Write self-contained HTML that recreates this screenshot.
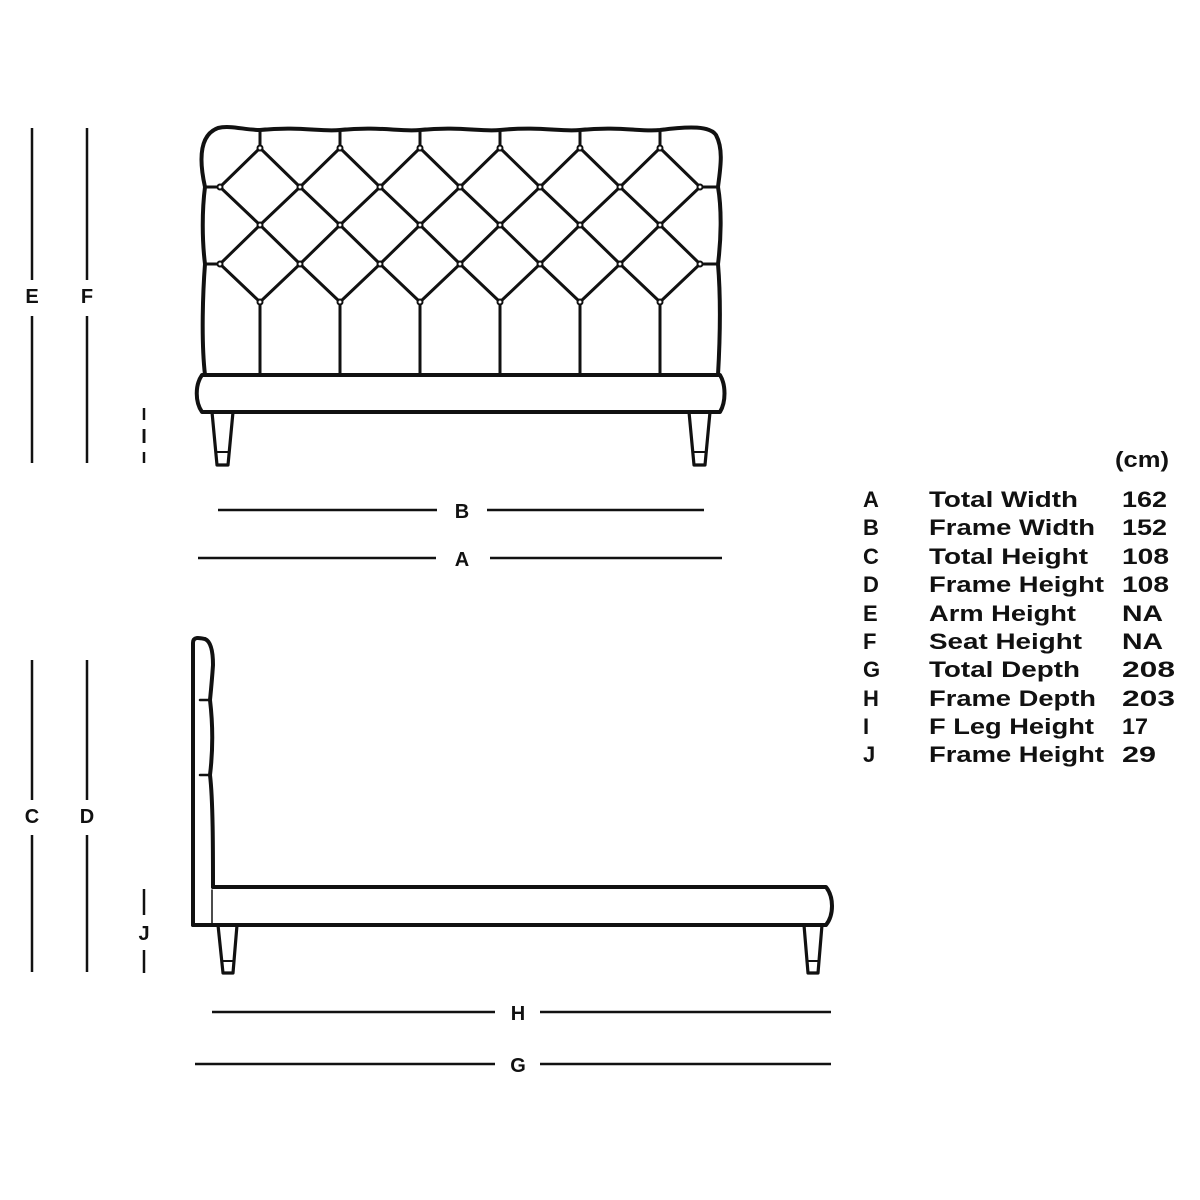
<!DOCTYPE html>
<html><head><meta charset="utf-8"><style>
html,body{margin:0;padding:0;background:#fff;}
svg{display:block;}
text{font-family:"Liberation Sans",sans-serif;font-weight:bold;fill:#111;}
</style></head><body>
<svg width="1200" height="1200" viewBox="0 0 1200 1200" xmlns="http://www.w3.org/2000/svg">
<g fill="none" stroke="#111" stroke-linecap="round" stroke-linejoin="round">
<path d="M212,375 L205,375 C201,340 203,290 205,264 C202,240 202,210 205,187 C199,160 199,135 218,128 C230,125 245,130 260,130 C300,126 320,132 340,130 C380,126 400,132 420,130 C460,126 480,132 500,130 C540,126 560,132 580,130 C620,126 640,132 660,130 C690,126 710,126 716,135 C724,150 720,170 718,187 C722,210 721,240 718,264 C721,300 720,340 718,375" stroke-width="4"/>
<path d="M202,375 L720,375 C726,385 726,402 720,412 L202,412 C195,402 195,385 202,375 Z" stroke-width="4"/>
<path d="M212,412 L217,465 L228,465 L233,412" stroke-width="3.2"/>
<line x1="216" y1="452" x2="229" y2="452" stroke-width="2"/>
<path d="M689,412 L694,465 L705,465 L710,412" stroke-width="3.2"/>
<line x1="693" y1="452" x2="706" y2="452" stroke-width="2"/>
<g stroke-width="3">
<polyline points="220,187 260,148 300,187 340,148 380,187 420,148 460,187 500,148 540,187 580,148 620,187 660,148 700,187"/>
<polyline points="220,187 260,225 300,187 340,225 380,187 420,225 460,187 500,225 540,187 580,225 620,187 660,225 700,187"/>
<polyline points="220,264 260,225 300,264 340,225 380,264 420,225 460,264 500,225 540,264 580,225 620,264 660,225 700,264"/>
<polyline points="220,264 260,302 300,264 340,302 380,264 420,302 460,264 500,302 540,264 580,302 620,264 660,302 700,264"/>
<line x1="205" y1="187" x2="220" y2="187"/><line x1="205" y1="264" x2="220" y2="264"/>
<line x1="700" y1="187" x2="718" y2="187"/><line x1="700" y1="264" x2="718" y2="264"/>
<line x1="260" y1="130" x2="260" y2="148"/><line x1="340" y1="130" x2="340" y2="148"/><line x1="420" y1="130" x2="420" y2="148"/><line x1="500" y1="130" x2="500" y2="148"/><line x1="580" y1="130" x2="580" y2="148"/><line x1="660" y1="130" x2="660" y2="148"/>
<line x1="260" y1="302" x2="260" y2="375"/><line x1="340" y1="302" x2="340" y2="375"/><line x1="420" y1="302" x2="420" y2="375"/><line x1="500" y1="302" x2="500" y2="375"/><line x1="580" y1="302" x2="580" y2="375"/><line x1="660" y1="302" x2="660" y2="375"/>
</g>
<g fill="#fff" stroke-width="2">
<circle cx="260" cy="148" r="2.5"/><circle cx="340" cy="148" r="2.5"/><circle cx="420" cy="148" r="2.5"/><circle cx="500" cy="148" r="2.5"/><circle cx="580" cy="148" r="2.5"/><circle cx="660" cy="148" r="2.5"/>
<circle cx="220" cy="187" r="2.5"/><circle cx="300" cy="187" r="2.5"/><circle cx="380" cy="187" r="2.5"/><circle cx="460" cy="187" r="2.5"/><circle cx="540" cy="187" r="2.5"/><circle cx="620" cy="187" r="2.5"/><circle cx="700" cy="187" r="2.5"/>
<circle cx="260" cy="225" r="2.5"/><circle cx="340" cy="225" r="2.5"/><circle cx="420" cy="225" r="2.5"/><circle cx="500" cy="225" r="2.5"/><circle cx="580" cy="225" r="2.5"/><circle cx="660" cy="225" r="2.5"/>
<circle cx="220" cy="264" r="2.5"/><circle cx="300" cy="264" r="2.5"/><circle cx="380" cy="264" r="2.5"/><circle cx="460" cy="264" r="2.5"/><circle cx="540" cy="264" r="2.5"/><circle cx="620" cy="264" r="2.5"/><circle cx="700" cy="264" r="2.5"/>
<circle cx="260" cy="302" r="2.5"/><circle cx="340" cy="302" r="2.5"/><circle cx="420" cy="302" r="2.5"/><circle cx="500" cy="302" r="2.5"/><circle cx="580" cy="302" r="2.5"/><circle cx="660" cy="302" r="2.5"/>
</g>

<path d="M193,925 L193,643 C193,636 200,638 205,639 C212,642 213,655 213,665 C212,680 211,690 210,700 C213,725 213,750 210,775 C213,800 213,850 213,887" stroke-width="4"/>
<line x1="200" y1="700" x2="210" y2="700" stroke-width="2.5"/>
<line x1="200" y1="775" x2="210" y2="775" stroke-width="2.5"/>
<path d="M213,887 L826,887 C834,897 834,915 826,925 L193,925" stroke-width="4"/>
<line x1="212" y1="890" x2="212" y2="925" stroke-width="1.5"/>
<path d="M218,925 L223,973 L233,973 L237,925" stroke-width="3.2"/>
<line x1="222" y1="961" x2="234" y2="961" stroke-width="2"/>
<path d="M804,925 L808,973 L818,973 L822,925" stroke-width="3.2"/>
<line x1="807" y1="961" x2="819" y2="961" stroke-width="2"/>

<g stroke-width="2.5" stroke-linecap="butt">
<line x1="32" y1="128" x2="32" y2="280"/><line x1="32" y1="316" x2="32" y2="463"/>
<line x1="87" y1="128" x2="87" y2="280"/><line x1="87" y1="316" x2="87" y2="463"/>
<line x1="144" y1="408" x2="144" y2="420"/><line x1="144" y1="452" x2="144" y2="463"/>
<line x1="218" y1="510" x2="437" y2="510"/><line x1="487" y1="510" x2="704" y2="510"/>
<line x1="198" y1="558" x2="436" y2="558"/><line x1="490" y1="558" x2="722" y2="558"/>
<line x1="32" y1="660" x2="32" y2="800"/><line x1="32" y1="835" x2="32" y2="972"/>
<line x1="87" y1="660" x2="87" y2="800"/><line x1="87" y1="835" x2="87" y2="972"/>
<line x1="144" y1="889" x2="144" y2="915"/><line x1="144" y1="950" x2="144" y2="973"/>
<line x1="212" y1="1012" x2="495" y2="1012"/><line x1="540" y1="1012" x2="831" y2="1012"/>
<line x1="195" y1="1064" x2="495" y2="1064"/><line x1="540" y1="1064" x2="831" y2="1064"/>
</g>
</g>
<g font-size="20" text-anchor="middle">
<text x="32" y="303">E</text><text x="87" y="303">F</text><text x="144" y="443">I</text>
<text x="462" y="518">B</text><text x="462" y="566">A</text>
<text x="32" y="823">C</text><text x="87" y="823">D</text><text x="144" y="940">J</text>
<text x="518" y="1020">H</text><text x="518" y="1072">G</text>
</g>
<g font-size="22" lengthAdjust="spacingAndGlyphs">
<text x="1115" y="467" textLength="54" lengthAdjust="spacingAndGlyphs">(cm)</text>
<text x="863" y="507">A</text><text x="929" y="507" textLength="149" lengthAdjust="spacingAndGlyphs">Total Width</text><text x="1122" y="507" textLength="45" lengthAdjust="spacingAndGlyphs">162</text>
<text x="863" y="535">B</text><text x="929" y="535" textLength="166" lengthAdjust="spacingAndGlyphs">Frame Width</text><text x="1122" y="535" textLength="45" lengthAdjust="spacingAndGlyphs">152</text>
<text x="863" y="564">C</text><text x="929" y="564" textLength="159" lengthAdjust="spacingAndGlyphs">Total Height</text><text x="1122" y="564" textLength="47" lengthAdjust="spacingAndGlyphs">108</text>
<text x="863" y="592">D</text><text x="929" y="592" textLength="175" lengthAdjust="spacingAndGlyphs">Frame Height</text><text x="1122" y="592" textLength="47" lengthAdjust="spacingAndGlyphs">108</text>
<text x="863" y="621">E</text><text x="929" y="621" textLength="147" lengthAdjust="spacingAndGlyphs">Arm Height</text><text x="1122" y="621" textLength="41" lengthAdjust="spacingAndGlyphs">NA</text>
<text x="863" y="649">F</text><text x="929" y="649" textLength="153" lengthAdjust="spacingAndGlyphs">Seat Height</text><text x="1122" y="649" textLength="41" lengthAdjust="spacingAndGlyphs">NA</text>
<text x="863" y="677">G</text><text x="929" y="677" textLength="151" lengthAdjust="spacingAndGlyphs">Total Depth</text><text x="1122" y="677" textLength="53" lengthAdjust="spacingAndGlyphs">208</text>
<text x="863" y="706">H</text><text x="929" y="706" textLength="167" lengthAdjust="spacingAndGlyphs">Frame Depth</text><text x="1122" y="706" textLength="53" lengthAdjust="spacingAndGlyphs">203</text>
<text x="863" y="734">I</text><text x="929" y="734" textLength="165" lengthAdjust="spacingAndGlyphs">F Leg Height</text><text x="1122" y="734" textLength="26" lengthAdjust="spacingAndGlyphs">17</text>
<text x="863" y="762">J</text><text x="929" y="762" textLength="175" lengthAdjust="spacingAndGlyphs">Frame Height</text><text x="1122" y="762" textLength="34" lengthAdjust="spacingAndGlyphs">29</text>
</g>
</svg>
</body></html>
